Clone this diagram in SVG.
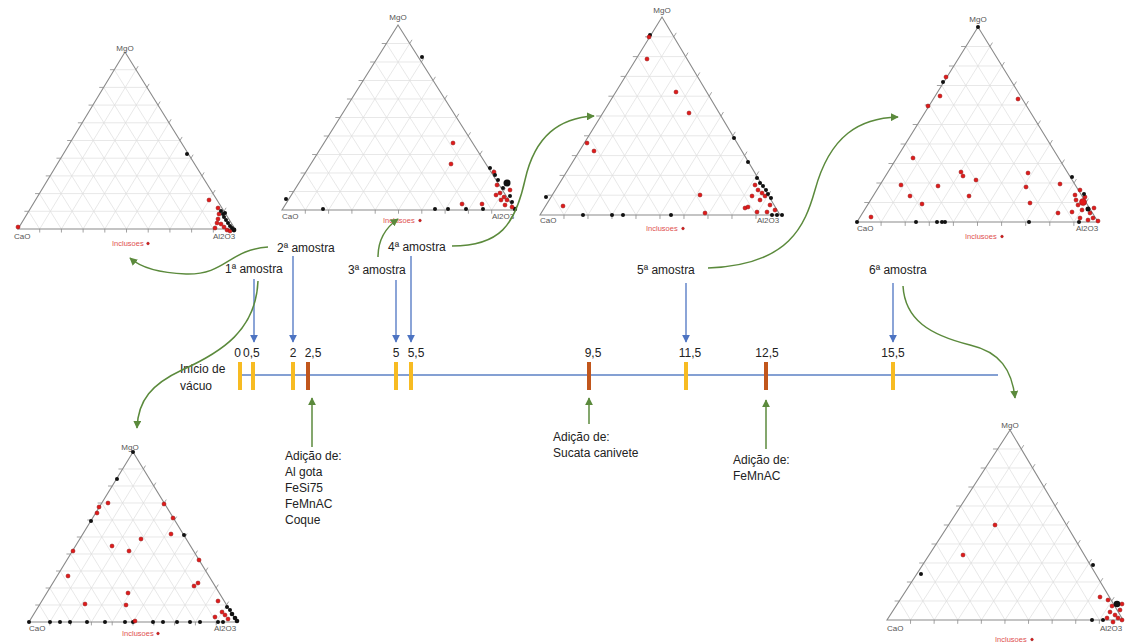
<svg xmlns="http://www.w3.org/2000/svg" xmlns:xlink="http://www.w3.org/1999/xlink" width="1126" height="644" viewBox="0 0 1126 644">
<style>
.edge{fill:none;stroke:#8a8a8a;stroke-width:1.1}
.grid{fill:none;stroke:#dedede;stroke-width:0.7}
.tick{fill:none;stroke:#8a8a8a;stroke-width:0.8}
.ax{font-family:"Liberation Sans",Arial,sans-serif;font-size:8px;fill:#555}
.inc{font-family:"Liberation Sans",Arial,sans-serif;font-size:7.5px;fill:#e05050}
.r{fill:#e11a1a;stroke:#8a1010;stroke-width:0.5}
.k{fill:#111}
.lbl{font-family:"Liberation Sans",Arial,sans-serif;font-size:12px;fill:#222}
.yel{fill:#f7bb22}
.brn{fill:#c1561c}
.blue{fill:none;stroke:#4d74c2;stroke-width:1.3}
.green{fill:none;stroke:#5b8a3c;stroke-width:1.5}
</style>
<defs>
<marker id="ab" viewBox="0 0 10 10" refX="9" refY="5" markerWidth="8" markerHeight="8" markerUnits="userSpaceOnUse" orient="auto"><path d="M0,0 L10,5 L0,10 z" fill="#4d74c2"/></marker>
<marker id="ag" viewBox="0 0 10 10" refX="9" refY="5" markerWidth="8" markerHeight="8" markerUnits="userSpaceOnUse" orient="auto"><path d="M0,0 L10,5 L0,10 z" fill="#5b8a3c"/></marker>
<g id="tri">
<path class="grid" vector-effect="non-scaling-stroke" d="M5,-10H95M10,-20H90M15,-30H85M20,-40H80M25,-50H75M30,-60H70M35,-70H65M40,-80H60M45,-90H55
M10,0L55,-90M20,0L60,-80M30,0L65,-70M40,0L70,-60M50,0L75,-50M60,0L80,-40M70,0L85,-30M80,0L90,-20M90,0L95,-10
M10,0L5,-10M20,0L10,-20M30,0L15,-30M40,0L20,-40M50,0L25,-50M60,0L30,-60M70,0L35,-70M80,0L40,-80M90,0L45,-90"/>
<path class="tick" vector-effect="non-scaling-stroke" d="M5,-10h-2M10,-20h-2M15,-30h-2M20,-40h-2M25,-50h-2M30,-60h-2M35,-70h-2M40,-80h-2M45,-90h-2
M10,0v2M20,0v2M30,0v2M40,0v2M50,0v2M60,0v2M70,0v2M80,0v2M90,0v2
M95,-10l1,-2M90,-20l1,-2M85,-30l1,-2M80,-40l1,-2M75,-50l1,-2M70,-60l1,-2M65,-70l1,-2M60,-80l1,-2M55,-90l1,-2"/>
<path class="edge" vector-effect="non-scaling-stroke" d="M0,0L100,0L50,-100Z"/>
</g>
</defs>
<rect width="1126" height="644" fill="#ffffff"/>

<g id="ternary1">
<use xlink:href="#tri" href="#tri" transform="matrix(2.17,0,0.015,1.77,18,229)"/>
<text class="ax" x="125" y="51" text-anchor="middle">MgO</text>
<text class="ax" x="14" y="239">CaO</text>
<text class="ax" x="213" y="239">Al2O3</text>
<text class="inc" x="112" y="246">Inclusoes</text><circle class="r" cx="148" cy="243.5" r="1.3"/>
<g>
<circle class="k" cx="187" cy="154" r="2"/>
<circle class="r" cx="18" cy="227" r="2"/><circle class="r" cx="209" cy="200" r="2"/><circle class="r" cx="215" cy="228" r="2"/><circle class="r" cx="218" cy="208" r="2"/><circle class="r" cx="219" cy="214" r="2"/><circle class="r" cx="218" cy="219" r="2"/><circle class="r" cx="221" cy="224" r="2"/><circle class="r" cx="217" cy="223" r="2"/><circle class="r" cx="224" cy="227" r="2"/><circle class="r" cx="227" cy="230" r="2"/><circle class="r" cx="230" cy="231" r="2"/>
<circle class="k" cx="221" cy="211" r="2"/><circle class="k" cx="223" cy="214" r="2"/><circle class="k" cx="224" cy="217" r="2"/><circle class="k" cx="226" cy="220" r="2"/><circle class="k" cx="228" cy="223" r="2"/><circle class="k" cx="230" cy="226" r="2"/><circle class="k" cx="232" cy="228" r="2"/><circle class="k" cx="234" cy="230" r="2.4"/><circle class="k" cx="225" cy="213" r="2"/>
</g>
</g>

<g id="ternary2">
<use xlink:href="#tri" href="#tri" transform="matrix(2.33,0,0.005,1.85,282,210)"/>
<text class="ax" x="398" y="20" text-anchor="middle">MgO</text>
<text class="ax" x="282" y="219">CaO</text>
<text class="ax" x="492" y="219">Al2O3</text>
<text class="inc" x="383" y="223">Inclusoes</text><circle class="r" cx="420" cy="220.5" r="1.3"/>
<g>
<circle class="k" cx="422" cy="57" r="2"/><circle class="k" cx="286" cy="199" r="2"/><circle class="k" cx="323" cy="209" r="2"/><circle class="k" cx="435" cy="209" r="2"/><circle class="k" cx="448" cy="209" r="2"/><circle class="k" cx="466" cy="209" r="2"/><circle class="k" cx="483" cy="209" r="2"/><circle class="k" cx="515" cy="209" r="2.2"/>
<circle class="r" cx="453" cy="143" r="2"/><circle class="r" cx="451" cy="164" r="2"/><circle class="r" cx="462" cy="204" r="2"/><circle class="r" cx="482" cy="204" r="2"/><circle class="r" cx="494" cy="172" r="2"/><circle class="r" cx="497" cy="185" r="2"/><circle class="r" cx="500" cy="193" r="2"/><circle class="r" cx="504" cy="197" r="2"/><circle class="r" cx="507" cy="200" r="2"/><circle class="r" cx="501" cy="200" r="2"/><circle class="r" cx="496" cy="195" r="2"/><circle class="r" cx="510" cy="190" r="2"/><circle class="r" cx="505" cy="205" r="2"/><circle class="r" cx="512" cy="207" r="2"/>
<circle class="k" cx="490" cy="168" r="2"/><circle class="k" cx="495" cy="175" r="2"/><circle class="k" cx="498" cy="180" r="2"/><circle class="k" cx="507" cy="183" r="3.5"/><circle class="k" cx="503" cy="188" r="2"/><circle class="k" cx="510" cy="196" r="2"/><circle class="k" cx="512" cy="202" r="2"/>
</g>
</g>

<g id="ternary3">
<use xlink:href="#tri" href="#tri" transform="matrix(2.4,0,-0.02,1.98,540,215)"/>
<text class="ax" x="662" y="13" text-anchor="middle">MgO</text>
<text class="ax" x="540" y="223">CaO</text>
<text class="ax" x="757" y="223">Al2O3</text>
<text class="inc" x="646" y="231">Inclusoes</text><circle class="r" cx="683" cy="228.5" r="1.3"/>
<g>
<circle class="k" cx="650" cy="35" r="2"/><circle class="k" cx="734" cy="138" r="2"/><circle class="k" cx="748" cy="162" r="2"/><circle class="k" cx="546" cy="197" r="2"/><circle class="k" cx="583" cy="215" r="2"/><circle class="k" cx="612" cy="215" r="2"/><circle class="k" cx="623" cy="215" r="2"/><circle class="k" cx="671" cy="215" r="2"/><circle class="k" cx="772" cy="215" r="2"/><circle class="k" cx="777" cy="215" r="2"/><circle class="k" cx="782" cy="215" r="2"/>
<circle class="r" cx="649" cy="37" r="2"/><circle class="r" cx="647" cy="59" r="2"/><circle class="r" cx="676" cy="92" r="2"/><circle class="r" cx="689" cy="113" r="2"/><circle class="r" cx="587" cy="143" r="2"/><circle class="r" cx="594" cy="151" r="2"/><circle class="r" cx="563" cy="206" r="2"/><circle class="r" cx="700" cy="195" r="2"/><circle class="r" cx="705" cy="213" r="2"/><circle class="r" cx="745" cy="208" r="2"/><circle class="r" cx="748" cy="207" r="2"/><circle class="r" cx="757" cy="212" r="2"/><circle class="r" cx="767" cy="212" r="2"/><circle class="r" cx="760" cy="200" r="2"/><circle class="r" cx="755" cy="185" r="2"/><circle class="r" cx="758" cy="190" r="2"/><circle class="r" cx="762" cy="193" r="2"/><circle class="r" cx="765" cy="196" r="2"/><circle class="r" cx="752" cy="196" r="2"/><circle class="r" cx="770" cy="205" r="2"/><circle class="r" cx="775" cy="210" r="2"/>
<circle class="k" cx="771" cy="198" r="2"/><circle class="k" cx="757" cy="178" r="2"/><circle class="k" cx="760" cy="183" r="2"/><circle class="k" cx="763" cy="186" r="2"/><circle class="k" cx="766" cy="190" r="2"/><circle class="k" cx="768" cy="194" r="2"/>
</g>
</g>

<g id="ternary4">
<use xlink:href="#tri" href="#tri" transform="matrix(2.41,0,-0.005,1.95,857,222)"/>
<text class="ax" x="978" y="22" text-anchor="middle">MgO</text>
<text class="ax" x="857" y="231">CaO</text>
<text class="ax" x="1076" y="231">Al2O3</text>
<text class="inc" x="965" y="239">Inclusoes</text><circle class="r" cx="1002" cy="236.5" r="1.3"/>
<g>
<circle class="k" cx="978" cy="27" r="2"/><circle class="k" cx="943" cy="82" r="2"/><circle class="k" cx="1072" cy="177" r="2"/><circle class="k" cx="857" cy="222" r="2"/><circle class="k" cx="916" cy="222" r="2"/><circle class="k" cx="937" cy="222" r="2"/><circle class="k" cx="942" cy="222" r="2"/><circle class="k" cx="945" cy="222" r="2"/><circle class="k" cx="1029" cy="222" r="2"/><circle class="k" cx="1079" cy="222" r="2"/>
<circle class="r" cx="946" cy="77" r="2"/><circle class="r" cx="940" cy="96" r="2"/><circle class="r" cx="928" cy="106" r="2"/><circle class="r" cx="1018" cy="99" r="2"/><circle class="r" cx="913" cy="158" r="2"/><circle class="r" cx="961" cy="172" r="2"/><circle class="r" cx="963" cy="176" r="2"/><circle class="r" cx="976" cy="180" r="2"/><circle class="r" cx="901" cy="185" r="2"/><circle class="r" cx="938" cy="186" r="2"/><circle class="r" cx="910" cy="196" r="2"/><circle class="r" cx="969" cy="196" r="2"/><circle class="r" cx="922" cy="204" r="2"/><circle class="r" cx="1028" cy="173" r="2"/><circle class="r" cx="1026" cy="187" r="2"/><circle class="r" cx="1060" cy="184" r="2"/><circle class="r" cx="1058" cy="213" r="2"/><circle class="r" cx="1030" cy="203" r="2"/><circle class="r" cx="871" cy="217" r="2"/>
<circle class="r" cx="1075" cy="195" r="2"/><circle class="r" cx="1080" cy="190" r="2"/><circle class="r" cx="1085" cy="197" r="2"/><circle class="r" cx="1078" cy="205" r="2"/><circle class="r" cx="1090" cy="213" r="2"/><circle class="r" cx="1093" cy="218" r="2"/><circle class="r" cx="1072" cy="212" r="2"/><circle class="r" cx="1080" cy="218" r="2"/><circle class="r" cx="1098" cy="221" r="2"/><circle class="r" cx="1088" cy="220" r="2"/><circle class="r" cx="1076" cy="200" r="2"/><circle class="r" cx="1082" cy="210" r="2"/><circle class="r" cx="1094" cy="208" r="2"/><circle class="r" cx="1083" cy="202" r="3.5"/>
<circle class="k" cx="1088" cy="209" r="2.5"/><circle class="k" cx="1084" cy="194" r="2"/>
</g>
</g>

<g id="ternary5">
<use xlink:href="#tri" href="#tri" transform="matrix(2.08,0,0,1.70,29,622)"/>
<text class="ax" x="130" y="450" text-anchor="middle">MgO</text>
<text class="ax" x="29" y="631">CaO</text>
<text class="ax" x="214" y="631">Al2O3</text>
<text class="inc" x="122" y="636">Inclusoes</text><circle class="r" cx="158" cy="633.5" r="1.3"/>
<g>
<circle class="k" cx="133" cy="452" r="2"/><circle class="k" cx="117" cy="479" r="2"/><circle class="k" cx="91" cy="521" r="2"/><circle class="k" cx="184" cy="535" r="2"/>
<circle class="k" cx="29" cy="622" r="2"/><circle class="k" cx="50" cy="622" r="2"/><circle class="k" cx="60" cy="622" r="2"/><circle class="k" cx="70" cy="622" r="2"/><circle class="k" cx="87" cy="622" r="2"/><circle class="k" cx="105" cy="622" r="2"/><circle class="k" cx="125" cy="622" r="2"/><circle class="k" cx="133" cy="622" r="2"/><circle class="k" cx="153" cy="622" r="2"/><circle class="k" cx="163" cy="622" r="2"/><circle class="k" cx="177" cy="622" r="2"/><circle class="k" cx="190" cy="622" r="2"/><circle class="k" cx="200" cy="622" r="2"/><circle class="k" cx="218" cy="622" r="2"/><circle class="k" cx="223" cy="622" r="2"/>
<circle class="r" cx="108" cy="503" r="2"/><circle class="r" cx="99" cy="507" r="2"/><circle class="r" cx="97" cy="513" r="2"/><circle class="r" cx="164" cy="504" r="2"/><circle class="r" cx="173" cy="518" r="2"/><circle class="r" cx="171" cy="534" r="2"/><circle class="r" cx="141" cy="539" r="2"/><circle class="r" cx="112" cy="546" r="2"/><circle class="r" cx="129" cy="551" r="2"/><circle class="r" cx="73" cy="551" r="2"/><circle class="r" cx="199" cy="560" r="2"/><circle class="r" cx="68" cy="576" r="2"/><circle class="r" cx="198" cy="583" r="2"/><circle class="r" cx="194" cy="586" r="2"/><circle class="r" cx="128" cy="593" r="2"/><circle class="r" cx="126" cy="605" r="2"/><circle class="r" cx="85" cy="604" r="2"/><circle class="r" cx="218" cy="601" r="2"/><circle class="r" cx="135" cy="621" r="2"/><circle class="r" cx="215" cy="617" r="2"/><circle class="r" cx="222" cy="612" r="2"/><circle class="r" cx="225" cy="615" r="2"/><circle class="r" cx="228" cy="619" r="2"/>
<circle class="k" cx="227" cy="607" r="2"/><circle class="k" cx="230" cy="610" r="2"/><circle class="k" cx="232" cy="614" r="2.3"/><circle class="k" cx="235" cy="618" r="2.3"/><circle class="k" cx="237" cy="621" r="2.3"/>
</g>
</g>

<g id="ternary6">
<use xlink:href="#tri" href="#tri" transform="matrix(2.36,0,-0.05,1.90,887,620)"/>
<text class="ax" x="1010" y="428" text-anchor="middle">MgO</text>
<text class="ax" x="887" y="631">CaO</text>
<text class="ax" x="1100" y="631">Al2O3</text>
<text class="inc" x="995" y="642">Inclusoes</text><circle class="r" cx="1032" cy="639.5" r="1.3"/>
<g>
<circle class="k" cx="921" cy="574" r="2"/><circle class="k" cx="1093" cy="565" r="2"/><circle class="k" cx="1092" cy="620" r="2"/><circle class="k" cx="1103" cy="620" r="2"/>
<circle class="r" cx="995" cy="525" r="2"/><circle class="r" cx="963" cy="555" r="2"/><circle class="r" cx="1100" cy="597" r="2"/><circle class="r" cx="1108" cy="600" r="2"/><circle class="r" cx="1112" cy="606" r="2"/><circle class="r" cx="1110" cy="612" r="2"/><circle class="r" cx="1115" cy="615" r="2"/><circle class="r" cx="1120" cy="610" r="2"/><circle class="r" cx="1118" cy="618" r="2"/><circle class="r" cx="1122" cy="620" r="2"/><circle class="r" cx="1107" cy="618" r="2"/><circle class="r" cx="1113" cy="622" r="2"/><circle class="r" cx="1122" cy="604" r="2"/>
<circle class="k" cx="1117" cy="604" r="3.3"/>
</g>
</g>

<g id="timeline">
<line x1="240" y1="375" x2="998" y2="375" stroke="#5b80c4" stroke-width="1.3"/>
<rect class="yel" x="238" y="362" width="4" height="28"/>
<rect class="yel" x="251" y="362" width="4" height="28"/>
<rect class="yel" x="291" y="362" width="4" height="28"/>
<rect class="brn" x="306" y="362" width="4" height="28"/>
<rect class="yel" x="394" y="362" width="4" height="28"/>
<rect class="yel" x="409" y="362" width="4" height="28"/>
<rect class="brn" x="587" y="362" width="4" height="28"/>
<rect class="yel" x="684" y="362" width="4" height="28"/>
<rect class="brn" x="764" y="362" width="4" height="28"/>
<rect class="yel" x="891" y="362" width="4" height="28"/>
</g>

<g id="ticklabels">
<text class="lbl" x="241" y="357" text-anchor="end">0</text>
<text class="lbl" x="243" y="357">0,5</text>
<text class="lbl" x="293" y="357" text-anchor="middle">2</text>
<text class="lbl" x="313" y="357" text-anchor="middle">2,5</text>
<text class="lbl" x="396" y="357" text-anchor="middle">5</text>
<text class="lbl" x="416" y="357" text-anchor="middle">5,5</text>
<text class="lbl" x="593" y="357" text-anchor="middle">9,5</text>
<text class="lbl" x="690" y="357" text-anchor="middle">11,5</text>
<text class="lbl" x="767" y="357" text-anchor="middle">12,5</text>
<text class="lbl" x="893" y="357" text-anchor="middle">15,5</text>
</g>

<g id="inicio"><text class="lbl" x="180" y="373">Início de</text><text class="lbl" x="180" y="390">vácuo</text></g>
<g id="amostra1"><text class="lbl" x="225" y="273">1ª amostra</text></g>
<g id="amostra2"><text class="lbl" x="277" y="252">2ª amostra</text></g>
<g id="amostra3"><text class="lbl" x="348" y="274">3ª amostra</text></g>
<g id="amostra4"><text class="lbl" x="388" y="251">4ª amostra</text></g>
<g id="amostra5"><text class="lbl" x="637" y="274">5ª amostra</text></g>
<g id="amostra6"><text class="lbl" x="869" y="274">6ª amostra</text></g>

<g id="adicao1"><text class="lbl" x="285" y="460">Adição de:</text><text class="lbl" x="285" y="476">Al gota</text><text class="lbl" x="285" y="492">FeSi75</text><text class="lbl" x="285" y="508">FeMnAC</text><text class="lbl" x="285" y="524">Coque</text></g>
<g id="adicao2"><text class="lbl" x="553" y="441">Adição de:</text><text class="lbl" x="553" y="457">Sucata canivete</text></g>
<g id="adicao3"><text class="lbl" x="733" y="464">Adição de:</text><text class="lbl" x="733" y="480">FeMnAC</text></g>

<g id="connectors">
<line class="blue" x1="254" y1="279" x2="254" y2="342" marker-end="url(#ab)"/>
<line class="blue" x1="293" y1="256" x2="293" y2="342" marker-end="url(#ab)"/>
<line class="blue" x1="396" y1="280" x2="396" y2="342" marker-end="url(#ab)"/>
<line class="blue" x1="411" y1="256" x2="411" y2="342" marker-end="url(#ab)"/>
<line class="blue" x1="686" y1="283" x2="686" y2="342" marker-end="url(#ab)"/>
<line class="blue" x1="893" y1="283" x2="893" y2="342" marker-end="url(#ab)"/>
<path class="green" d="M268,247 C228,250 226,275 186,274 C160,273 140,267 130,258" marker-end="url(#ag)"/>
<path class="green" d="M258,281 C256,330 222,352 182,370 C152,384 138,400 137,428" marker-end="url(#ag)"/>
<path class="green" d="M378,257 C378,240 385,228 398,219" marker-end="url(#ag)"/>
<path class="green" d="M452,246 C500,246 515,225 525,180 C535,135 560,118 594,116" marker-end="url(#ag)"/>
<path class="green" d="M708,268 C790,265 805,225 815,190 C830,135 860,118 898,117" marker-end="url(#ag)"/>
<path class="green" d="M903,286 C905,320 930,335 970,345 C1000,352 1012,370 1015,398" marker-end="url(#ag)"/>
<line class="green" x1="312" y1="447" x2="312" y2="398" marker-end="url(#ag)"/>
<line class="green" x1="589" y1="424" x2="589" y2="398" marker-end="url(#ag)"/>
<line class="green" x1="766" y1="449" x2="766" y2="400" marker-end="url(#ag)"/>
</g>
</svg>
